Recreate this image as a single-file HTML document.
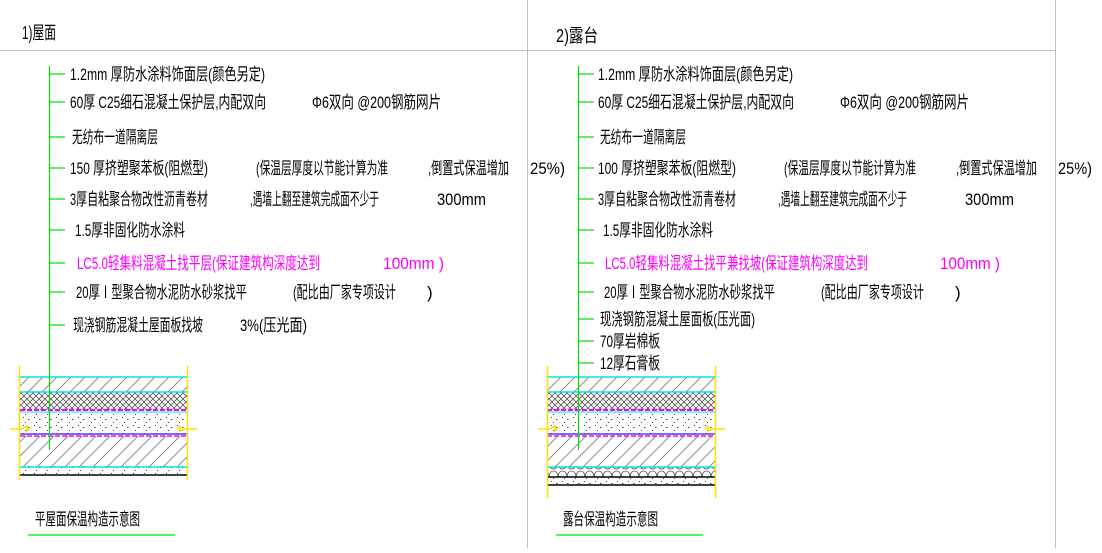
<!DOCTYPE html>
<html><head><meta charset="utf-8"><style>
html,body{margin:0;padding:0;background:#fff;}
svg text{font-family:"Liberation Sans","Noto Sans CJK SC",sans-serif;font-size:17px;fill:#000;}
.m{fill:#ff00ff !important;}
</style></head><body>
<svg width="1102" height="548" viewBox="0 0 1102 548" xmlns="http://www.w3.org/2000/svg">
<defs>
<pattern id="hatch" width="14" height="14" patternUnits="userSpaceOnUse"><path d="M0 14 L14 0 M-4 4 L4 -4 M10 18 L18 10" stroke="#777" stroke-width="0.8"/></pattern>
<pattern id="cross" width="6" height="6" patternUnits="userSpaceOnUse"><path d="M0 0 L6 6 M6 0 L0 6" stroke="#555" stroke-width="0.8"/></pattern>
<pattern id="dots" width="11" height="8" patternUnits="userSpaceOnUse"><rect x="1" y="1" width="1" height="1" fill="#444"/><rect x="6" y="3" width="1.5" height="1" fill="#444"/><rect x="3" y="6" width="1" height="1" fill="#444"/></pattern>
<pattern id="circ" width="9" height="10" patternUnits="userSpaceOnUse"><circle cx="4.5" cy="5" r="4" fill="none" stroke="#555" stroke-width="0.8"/></pattern>
</defs>
<line x1="0" y1="50.5" x2="1055" y2="50.5" stroke="#c0c0c0"/>
<line x1="527.5" y1="0" x2="527.5" y2="548" stroke="#c0c0c0"/>
<line x1="1055.5" y1="0" x2="1055.5" y2="548" stroke="#c0c0c0"/>
<text x="22" y="39" textLength="34" lengthAdjust="spacingAndGlyphs" style="font-size:18px">1)屋面</text>
<text x="556" y="42" textLength="42" lengthAdjust="spacingAndGlyphs" style="font-size:18px">2)露台</text>

<g>
<rect x="20" y="377" width="167" height="15" fill="url(#hatch)"/>
<rect x="20" y="392" width="167" height="18" fill="url(#cross)"/>
<rect x="20" y="412" width="167" height="22" fill="url(#dots)"/>
<rect x="20" y="436" width="167" height="31" fill="url(#hatch)"/>
<rect x="20" y="467" width="167" height="8" fill="url(#dots)"/>
<line x1="20" y1="377" x2="187" y2="377" stroke="#00e0f0" stroke-width="1.5"/>
<line x1="20" y1="392" x2="187" y2="392" stroke="#00e0f0" stroke-width="1.5"/>
<line x1="20" y1="410" x2="187" y2="410" stroke="#ff00ff" stroke-width="2" stroke-dasharray="5 2"/>
<line x1="20" y1="412" x2="187" y2="412" stroke="#00e0f0" stroke-width="1"/>
<line x1="20" y1="434" x2="187" y2="434" stroke="#4040ff" stroke-width="1.5"/>
<line x1="20" y1="436" x2="187" y2="436" stroke="#ff00ff" stroke-width="1.5" stroke-dasharray="5 2"/>
<line x1="20" y1="467" x2="187" y2="467" stroke="#00e0f0" stroke-width="1.5"/>
<line x1="20" y1="475" x2="187" y2="475" stroke="#000" stroke-width="1.5"/>
<line x1="19.5" y1="366" x2="19.5" y2="480" stroke="#ffe000" stroke-width="1.5"/>
<line x1="187.5" y1="366" x2="187.5" y2="480" stroke="#ffe000" stroke-width="1.5"/>
<path d="M10 429 L22 429 L27 426 L27 431 L30 429" fill="none" stroke="#ffe000" stroke-width="1.5"/>
<path d="M177 429 L180 426 L180 431 L185 429 L197 429" fill="none" stroke="#ffe000" stroke-width="1.5"/>
</g>
<g>
<rect x="547" y="377" width="168" height="15" fill="url(#hatch)"/>
<rect x="547" y="392" width="168" height="18" fill="url(#cross)"/>
<rect x="547" y="412" width="168" height="22" fill="url(#dots)"/>
<rect x="547" y="436" width="168" height="31" fill="url(#hatch)"/>
<rect x="547" y="467" width="168" height="10" fill="url(#circ)"/>
<rect x="547" y="477" width="168" height="8" fill="url(#dots)"/>
<line x1="547" y1="377" x2="715" y2="377" stroke="#00e0f0" stroke-width="1.5"/>
<line x1="547" y1="392" x2="715" y2="392" stroke="#00e0f0" stroke-width="1.5"/>
<line x1="547" y1="410" x2="715" y2="410" stroke="#ff00ff" stroke-width="2" stroke-dasharray="5 2"/>
<line x1="547" y1="412" x2="715" y2="412" stroke="#00e0f0" stroke-width="1"/>
<line x1="547" y1="434" x2="715" y2="434" stroke="#4040ff" stroke-width="1.5"/>
<line x1="547" y1="436" x2="715" y2="436" stroke="#ff00ff" stroke-width="1.5" stroke-dasharray="5 2"/>
<line x1="547" y1="467" x2="715" y2="467" stroke="#00e0f0" stroke-width="1.5"/>
<line x1="547" y1="477" x2="715" y2="477" stroke="#000" stroke-width="1.5"/>
<line x1="547" y1="485" x2="715" y2="485" stroke="#000" stroke-width="1.5"/>
<line x1="547.5" y1="366" x2="547.5" y2="498" stroke="#ffe000" stroke-width="1.5"/>
<line x1="715.5" y1="366" x2="715.5" y2="498" stroke="#ffe000" stroke-width="1.5"/>
<path d="M538 429 L550 429 L555 426 L555 431 L558 429" fill="none" stroke="#ffe000" stroke-width="1.5"/>
<path d="M705 429 L708 426 L708 431 L713 429 L725 429" fill="none" stroke="#ffe000" stroke-width="1.5"/>
</g>

<g stroke="#00e000" stroke-width="1.2">
<line x1="49.5" y1="66" x2="49.5" y2="450"/>
<line x1="49" y1="74" x2="65" y2="74"/><line x1="49" y1="102" x2="65" y2="102"/><line x1="49" y1="137" x2="65" y2="137"/>
<line x1="49" y1="168" x2="65" y2="168"/><line x1="49" y1="199" x2="65" y2="199"/><line x1="49" y1="230" x2="65" y2="230"/>
<line x1="49" y1="263" x2="65" y2="263"/><line x1="49" y1="292" x2="65" y2="292"/><line x1="49" y1="325" x2="65" y2="325"/>
<line x1="578.5" y1="66" x2="578.5" y2="450"/>
<line x1="578" y1="74" x2="594" y2="74"/><line x1="578" y1="102" x2="594" y2="102"/><line x1="578" y1="137" x2="594" y2="137"/>
<line x1="578" y1="168" x2="594" y2="168"/><line x1="578" y1="199" x2="594" y2="199"/><line x1="578" y1="230" x2="594" y2="230"/>
<line x1="578" y1="263" x2="594" y2="263"/><line x1="578" y1="292" x2="594" y2="292"/><line x1="578" y1="319" x2="594" y2="319"/>
<line x1="578" y1="341" x2="594" y2="341"/><line x1="578" y1="363" x2="594" y2="363"/>
<line x1="28" y1="535" x2="175" y2="535"/><line x1="556" y1="535" x2="703" y2="535"/>
</g>

<g>
<text x="70" y="80" textLength="195" lengthAdjust="spacingAndGlyphs">1.2mm 厚防水涂料饰面层(颜色另定)</text>
<text x="70" y="108" textLength="196" lengthAdjust="spacingAndGlyphs">60厚 C25细石混凝土保护层,内配双向</text>
<text x="312" y="108" textLength="129" lengthAdjust="spacingAndGlyphs">Φ6双向 @200钢筋网片</text>
<text x="72" y="143" textLength="86" lengthAdjust="spacingAndGlyphs">无纺布一道隔离层</text>
<text x="70" y="174" textLength="138" lengthAdjust="spacingAndGlyphs">150 厚挤塑聚苯板(阻燃型)</text>
<text x="256" y="174" textLength="132" lengthAdjust="spacingAndGlyphs">(保温层厚度以节能计算为准</text>
<text x="428" y="174" textLength="81" lengthAdjust="spacingAndGlyphs">,倒置式保温增加</text>
<text x="530" y="174" textLength="35" lengthAdjust="spacingAndGlyphs">25%)</text>
<text x="70" y="205" textLength="138" lengthAdjust="spacingAndGlyphs">3厚自粘聚合物改性沥青卷材</text>
<text x="250" y="205" textLength="129" lengthAdjust="spacingAndGlyphs">,遇墙上翻至建筑完成面不少于</text>
<text x="437" y="205" textLength="49" lengthAdjust="spacingAndGlyphs">300mm</text>
<text x="75" y="236" textLength="110" lengthAdjust="spacingAndGlyphs">1.5厚非固化防水涂料</text>
<text class="m" x="77" y="269" textLength="243" lengthAdjust="spacingAndGlyphs">LC5.0轻集料混凝土找平层(保证建筑构深度达到</text>
<text class="m" x="383" y="269" textLength="61" lengthAdjust="spacingAndGlyphs">100mm )</text>
<text x="76" y="298" textLength="171" lengthAdjust="spacingAndGlyphs">20厚Ⅰ型聚合物水泥防水砂浆找平</text>
<text x="293" y="298" textLength="103" lengthAdjust="spacingAndGlyphs">(配比由厂家专项设计</text>
<text x="427" y="298">)</text>
<text x="73" y="331" textLength="130" lengthAdjust="spacingAndGlyphs">现浇钢筋混凝土屋面板找坡</text>
<text x="240" y="331" textLength="67" lengthAdjust="spacingAndGlyphs">3%(压光面)</text>
<text x="35" y="525" textLength="105" lengthAdjust="spacingAndGlyphs">平屋面保温构造示意图</text>
</g>
<g>
<text x="598" y="80" textLength="195" lengthAdjust="spacingAndGlyphs">1.2mm 厚防水涂料饰面层(颜色另定)</text>
<text x="598" y="108" textLength="196" lengthAdjust="spacingAndGlyphs">60厚 C25细石混凝土保护层,内配双向</text>
<text x="840" y="108" textLength="129" lengthAdjust="spacingAndGlyphs">Φ6双向 @200钢筋网片</text>
<text x="600" y="143" textLength="86" lengthAdjust="spacingAndGlyphs">无纺布一道隔离层</text>
<text x="598" y="174" textLength="138" lengthAdjust="spacingAndGlyphs">100 厚挤塑聚苯板(阻燃型)</text>
<text x="784" y="174" textLength="132" lengthAdjust="spacingAndGlyphs">(保温层厚度以节能计算为准</text>
<text x="956" y="174" textLength="81" lengthAdjust="spacingAndGlyphs">,倒置式保温增加</text>
<text x="1058" y="174" textLength="34" lengthAdjust="spacingAndGlyphs">25%)</text>
<text x="598" y="205" textLength="138" lengthAdjust="spacingAndGlyphs">3厚自粘聚合物改性沥青卷材</text>
<text x="778" y="205" textLength="129" lengthAdjust="spacingAndGlyphs">,遇墙上翻至建筑完成面不少于</text>
<text x="965" y="205" textLength="49" lengthAdjust="spacingAndGlyphs">300mm</text>
<text x="603" y="236" textLength="110" lengthAdjust="spacingAndGlyphs">1.5厚非固化防水涂料</text>
<text class="m" x="605" y="269" textLength="263" lengthAdjust="spacingAndGlyphs">LC5.0轻集料混凝土找平兼找坡(保证建筑构深度达到</text>
<text class="m" x="940" y="269" textLength="60" lengthAdjust="spacingAndGlyphs">100mm )</text>
<text x="604" y="298" textLength="171" lengthAdjust="spacingAndGlyphs">20厚Ⅰ型聚合物水泥防水砂浆找平</text>
<text x="821" y="298" textLength="103" lengthAdjust="spacingAndGlyphs">(配比由厂家专项设计</text>
<text x="955" y="298">)</text>
<text x="600" y="325" textLength="155" lengthAdjust="spacingAndGlyphs">现浇钢筋混凝土屋面板(压光面)</text>
<text x="600" y="347" textLength="60" lengthAdjust="spacingAndGlyphs">70厚岩棉板</text>
<text x="600" y="369" textLength="60" lengthAdjust="spacingAndGlyphs">12厚石膏板</text>
<text x="563" y="525" textLength="95" lengthAdjust="spacingAndGlyphs">露台保温构造示意图</text>
</g>
</svg>
</body></html>
